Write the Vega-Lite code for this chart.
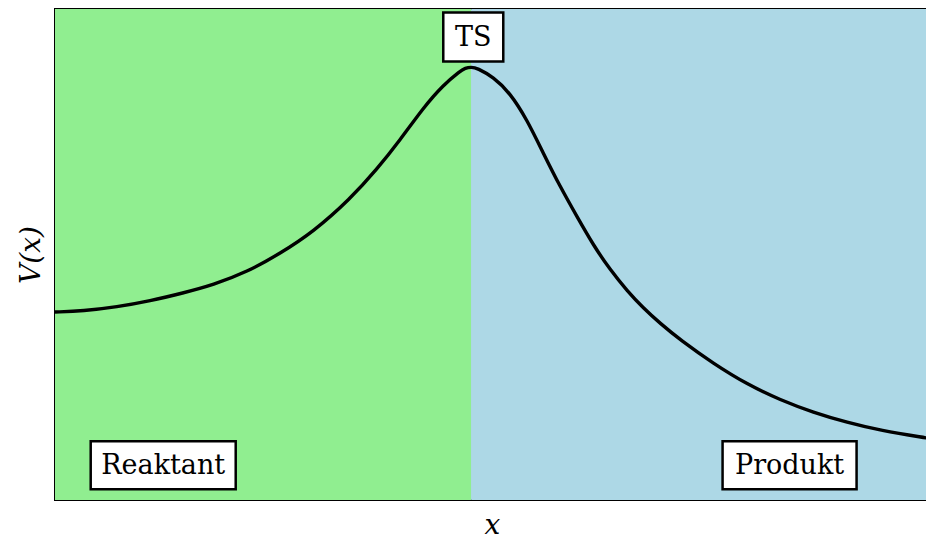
{
  "$schema": "https://vega.github.io/schema/vega-lite/v6.json",
  "width": 874,
  "height": 491,
  "autosize": {"type": "none"},
  "padding": {"left": 55, "top": 9, "right": 0, "bottom": 36},
  "background": "white",
  "config": {
    "view": {"stroke": "black", "strokeWidth": 2, "fill": "#ADD8E6"},
    "font": "DejaVu Serif"
  },
  "datasets": {
    "regions": [
      {"region": "Reaktant", "start": -4, "end": 0},
      {"region": "Produkt", "start": 0, "end": 4.4}
    ],
    "potential": [
      {"x": -4.0, "V": 0.3829},
      {"x": -3.731, "V": 0.3849},
      {"x": -3.404, "V": 0.3931},
      {"x": -3.087, "V": 0.4053},
      {"x": -2.769, "V": 0.4216},
      {"x": -2.481, "V": 0.4379},
      {"x": -2.154, "V": 0.4644},
      {"x": -1.837, "V": 0.502},
      {"x": -1.519, "V": 0.5458},
      {"x": -1.163, "V": 0.613},
      {"x": -0.904, "V": 0.6741},
      {"x": -0.683, "V": 0.7332},
      {"x": -0.462, "V": 0.7984},
      {"x": -0.269, "V": 0.8452},
      {"x": -0.106, "V": 0.8737},
      {"x": -0.058, "V": 0.8798},
      {"x": 0.0, "V": 0.8819},
      {"x": 0.058, "V": 0.8798},
      {"x": 0.212, "V": 0.8615},
      {"x": 0.375, "V": 0.8289},
      {"x": 0.538, "V": 0.7739},
      {"x": 0.692, "V": 0.7067},
      {"x": 0.856, "V": 0.6375},
      {"x": 1.019, "V": 0.5764},
      {"x": 1.173, "V": 0.5193},
      {"x": 1.337, "V": 0.4684},
      {"x": 1.5, "V": 0.4257},
      {"x": 1.654, "V": 0.391},
      {"x": 1.817, "V": 0.3595},
      {"x": 2.01, "V": 0.3259},
      {"x": 2.327, "V": 0.278},
      {"x": 2.654, "V": 0.2353},
      {"x": 2.971, "V": 0.2037},
      {"x": 3.288, "V": 0.1782},
      {"x": 3.615, "V": 0.1578},
      {"x": 3.933, "V": 0.1415},
      {"x": 4.375, "V": 0.1263},
      {"x": 4.4, "V": 0.1257}
    ],
    "labels": [
      {"label": "TS", "x": 0.02, "V": 0.943},
      {"label": "Reaktant", "x": -2.96, "V": 0.071},
      {"label": "Produkt", "x": 3.06, "V": 0.071}
    ]
  },
  "layer": [
    {
      "data": {"name": "regions"},
      "mark": {"type": "rect"},
      "encoding": {
        "x": {
          "field": "start",
          "type": "quantitative",
          "scale": {"domain": [-4, 4.4], "nice": false, "zero": false},
          "axis": {
            "title": "x",
            "titleFont": "DejaVu Serif",
            "titleFontStyle": "italic",
            "titleFontWeight": "normal",
            "titleFontSize": 28,
            "titleColor": "black",
            "titleBaseline": "alphabetic",
            "titlePadding": 33,
            "labels": false,
            "ticks": false,
            "domain": false,
            "grid": false
          }
        },
        "x2": {"field": "end"},
        "color": {
          "field": "region",
          "type": "nominal",
          "scale": {"domain": ["Reaktant", "Produkt"], "range": ["#90EE90", "#ADD8E6"]},
          "legend": null
        }
      }
    },
    {
      "data": {"name": "potential"},
      "mark": {"type": "line", "color": "black", "strokeWidth": 3.4, "interpolate": "basis"},
      "encoding": {
        "x": {"field": "x", "type": "quantitative"},
        "y": {
          "field": "V",
          "type": "quantitative",
          "scale": {"domain": [0, 1], "nice": false},
          "axis": {
            "title": "V(x)",
            "titleFont": "DejaVu Serif",
            "titleFontStyle": "italic",
            "titleFontWeight": "normal",
            "titleFontSize": 28,
            "titleColor": "black",
            "titlePadding": 10,
            "labels": false,
            "ticks": false,
            "domain": false,
            "grid": false
          }
        }
      }
    },
    {
      "data": {"name": "labels"},
      "mark": {"type": "point", "filled": true, "fill": "white", "stroke": "black", "strokeWidth": 2.5, "opacity": 1, "size": 10000},
      "encoding": {
        "x": {"field": "x", "type": "quantitative"},
        "y": {"field": "V", "type": "quantitative"},
        "shape": {
          "field": "label",
          "type": "nominal",
          "scale": {
            "domain": ["TS", "Reaktant", "Produkt"],
            "range": [
              "M-0.6,-0.49H0.6V0.49H-0.6Z",
              "M-1.45,-0.48H1.45V0.48H-1.45Z",
              "M-1.34,-0.48H1.34V0.48H-1.34Z"
            ]
          },
          "legend": null
        }
      }
    },
    {
      "data": {"name": "labels"},
      "mark": {"type": "text", "font": "DejaVu Serif", "fontSize": 27, "color": "black", "baseline": "middle", "align": "center", "dy": 1},
      "encoding": {
        "x": {"field": "x", "type": "quantitative"},
        "y": {"field": "V", "type": "quantitative"},
        "text": {"field": "label"}
      }
    }
  ]
}
